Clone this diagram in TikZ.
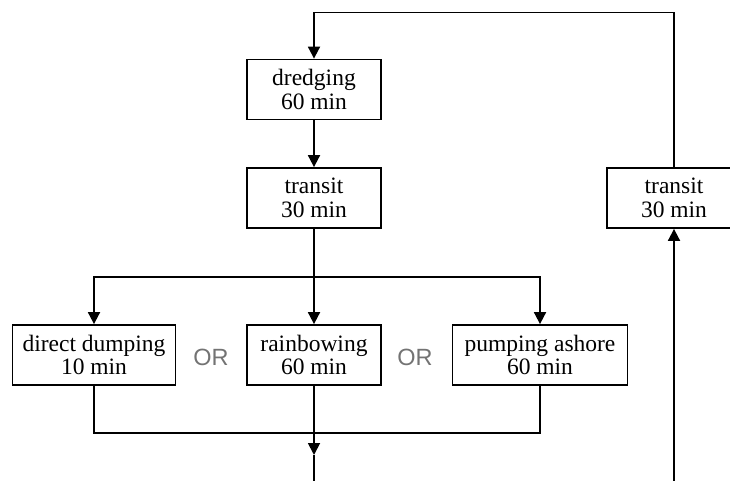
\documentclass[tikz,border=0pt]{standalone}
\usepackage{fontspec}
\setmainfont{Liberation Serif}
\newfontfamily\orfont{Liberation Sans}
\usetikzlibrary{arrows.meta}
\definecolor{orgray}{RGB}{115,115,115}
\begin{document}
\begin{tikzpicture}[x=1pt,y=-1pt,
  stage/.style={draw, line width=1.8pt, minimum height=60pt, align=center, inner sep=0pt,
    font=\fontsize{23.5}{23.5}\selectfont},
  orlabel/.style={font=\orfont\fontsize{23.5}{24}\selectfont, text=orgray},
  conn/.style={line width=1.8pt},
  arr/.style={conn, -{Triangle[length=12pt,width=12pt]}}]
\useasboundingbox (0,0) rectangle (730,480);
\clip (0,0) rectangle (730,480);
\node[stage, minimum width=134pt] (dredge) at (314,89.5) {dredging\\60 min};
\node[stage, minimum width=134pt] (transA) at (314,198) {transit\\30 min};
\node[stage, minimum width=163pt] (dd) at (94,355) {direct dumping\\10 min};
\node[stage, minimum width=134pt] (rb) at (314,355) {rainbowing\\60 min};
\node[stage, minimum width=175pt] (pa) at (540,355) {pumping ashore\\60 min};
\node[stage, minimum width=134pt] (transB) at (674,198) {transit\\30 min};
\node[orlabel] (or1) at (211,357) {OR};
\node[orlabel] (or2) at (415,357) {OR};
\coordinate (split) at (314,277);
\coordinate (merge) at (314,433);
\coordinate (tip) at (314,455);
\coordinate (bot) at (314,481);
\coordinate (ret) at (674,481);
\coordinate (top) at (674,12.5);
\draw[arr] (dredge) -- (transA);
\draw[conn] (transA.south) -- (split);
\draw[arr] (split) -| (dd.north);
\draw[arr] (split) -- (rb.north);
\draw[arr] (split) -| (pa.north);
\draw[conn] (dd.south) |- (merge);
\draw[conn] (pa.south) |- (merge);
\draw[conn] (rb.south) -- (merge);
\draw[arr] (merge) -- (tip);
\draw[conn] (tip) -- (bot);
\draw[arr] (ret) -- (transB.south);
\draw[arr] (transB.north) -- (top) -| (dredge.north);
\end{tikzpicture}
\end{document}
